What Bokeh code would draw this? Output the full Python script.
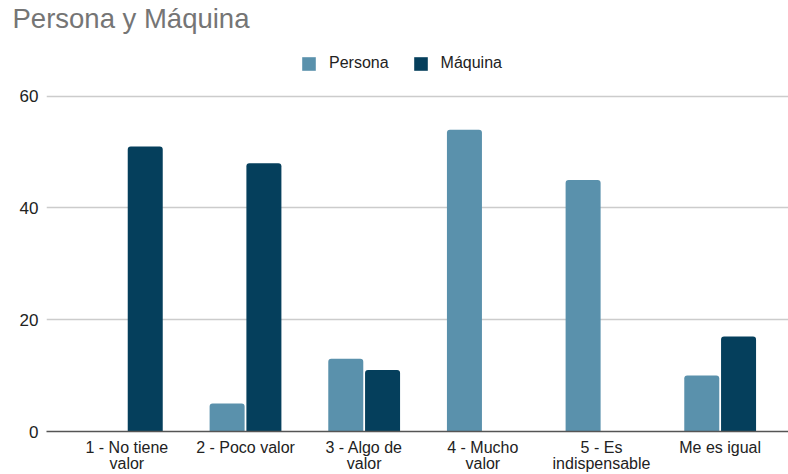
from bokeh.plotting import figure
from bokeh.models import (Legend, LegendItem, FixedTicker, Range1d,
                          ColumnDataSource)
from bokeh.transform import dodge
from bokeh.embed import file_html
from bokeh.resources import INLINE

# ---- data ----
categories = ["1 - No tiene valor", "2 - Poco valor", "3 - Algo de valor",
              "4 - Mucho valor", "5 - Es indispensable", "Me es igual"]
tick_labels = ["1 - No tiene\nvalor", "2 - Poco valor", "3 - Algo de\nvalor",
               "4 - Mucho\nvalor", "5 - Es\nindispensable", "Me es igual"]
persona = [0, 5, 13, 54, 45, 10]
maquina = [51, 48, 11, 0, 0, 17]
y_ticks = [0, 20, 40, 60]
title_text = "Persona y Máquina"

# ---- styles ----
C_PERSONA = "#5a91ac"
C_MAQUINA = "#053f5c"
FONT = "Liberation Sans"

W, H = 788, 474
FRAME_BOTTOM = 433   # px from top
GRID60 = 96          # px from top
TITLE_H = 33         # estimated height of title panel

xpos = list(range(len(categories)))
src = ColumnDataSource(dict(x=xpos, persona=persona, maquina=maquina,
                            cat=categories))

y_end = 60 * (FRAME_BOTTOM - TITLE_H) / (FRAME_BOTTOM - GRID60)

p = figure(width=W, height=H, output_backend="svg", toolbar_location=None,
           title=title_text,
           x_range=Range1d(-0.5 - 21.0 / 118.6, len(categories) - 0.5 + 9.0 / 118.6),
           y_range=Range1d(0, y_end),
           min_border_left=46, min_border_right=0, min_border_top=0,
           min_border_bottom=H - FRAME_BOTTOM)
p.outline_line_color = None
p.background_fill_color = "white"
p.border_fill_color = "white"

p.title.align = "left"
p.title.offset = 12 - 46
p.title.standoff = 0
p.title.text_font = FONT
p.title.text_font_size = "27.5px"
p.title.text_font_style = "normal"
p.title.text_color = "#757575"

bw = 0.295
r1 = p.vbar(x=dodge("x", -0.155, range=p.x_range), top="persona", width=bw,
            source=src, fill_color=C_PERSONA, line_color=None,
            border_radius=(3, 3, 0, 0))
r2 = p.vbar(x=dodge("x", 0.155, range=p.x_range), top="maquina", width=bw,
            source=src, fill_color=C_MAQUINA, line_color=None,
            border_radius=(3, 3, 0, 0))

# axes
p.xaxis.ticker = FixedTicker(ticks=xpos)
p.xaxis.major_label_overrides = {i: t for i, t in enumerate(tick_labels)}
p.xaxis.major_tick_line_color = None
p.xaxis.minor_tick_line_color = None
p.xaxis.major_tick_out = 0
p.xaxis.major_tick_in = 0
p.xaxis.minor_tick_out = 0
p.xaxis.axis_line_color = "#555555"
p.xaxis.axis_line_width = 1.3
p.xaxis.major_label_text_font = FONT
p.xaxis.major_label_text_font_size = "16px"
p.xaxis.major_label_text_line_height = 0.95
p.xaxis.major_label_text_color = "#222222"
p.xaxis.major_label_standoff = 7

p.yaxis.ticker = FixedTicker(ticks=y_ticks)
p.yaxis.axis_line_color = None
p.yaxis.major_tick_line_color = None
p.yaxis.minor_tick_line_color = None
p.yaxis.major_tick_out = 0
p.yaxis.major_tick_in = 0
p.yaxis.minor_tick_out = 0
p.yaxis.major_label_text_font = FONT
p.yaxis.major_label_text_font_size = "17px"
p.yaxis.major_label_text_color = "#222222"
p.yaxis.major_label_standoff = 8

p.xgrid.grid_line_color = None
p.ygrid.ticker = FixedTicker(ticks=y_ticks)
p.ygrid.grid_line_color = "#cccccc"
p.ygrid.grid_line_width = 1.3

legend = Legend(items=[LegendItem(label="Persona", renderers=[r1]),
                       LegendItem(label="Máquina", renderers=[r2])],
                orientation="horizontal", location=(254, FRAME_BOTTOM - 74),
                glyph_width=17, glyph_height=17, label_standoff=12,
                spacing=23, padding=0, margin=0,
                label_text_font=FONT, label_text_font_size="16px",
                label_text_color="#222222", border_line_color=None,
                background_fill_alpha=0)
p.add_layout(legend, "center")

open("out.html", "w").write(file_html(p, INLINE))
